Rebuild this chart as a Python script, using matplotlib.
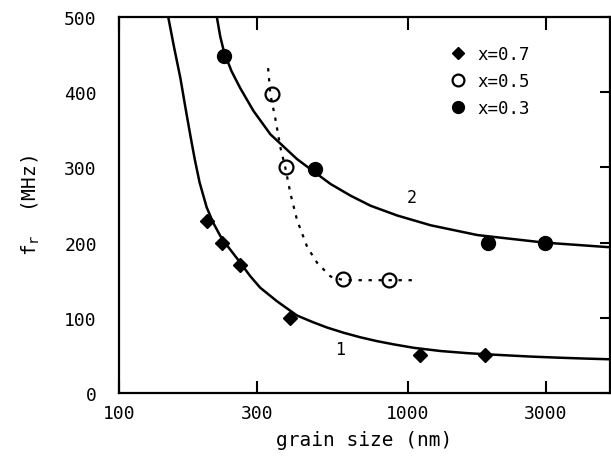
import matplotlib
matplotlib.use("agg")
import matplotlib.pyplot as plt

# measured points
d07 = [201, 228, 262, 391, 1100, 1850]
f07 = [229, 199, 170, 100, 50, 51]

d05 = [337, 379, 598, 861]
f05 = [398, 300, 151, 150]

d03 = [230, 478, 1893, 2970]
f03 = [448, 298, 199, 200]

# curve 1
c1_d = [148, 155, 163, 170, 177, 183, 190, 201, 212, 224, 240, 256, 285, 308,
        352, 413, 470, 525, 600, 685, 780, 894, 1050, 1297, 1600, 1858, 2662,
        3300, 4074, 4909]
c1_f = [500, 460, 419, 378, 340, 310, 280, 247, 226, 209, 193, 179, 155, 140,
        122, 103, 94, 87, 80, 74, 69, 64.6, 60, 55.8, 53, 51.5, 48.4, 47, 45.8,
        44.9]

# curve 2
c2_d = [218, 224, 230, 236, 245, 263, 292, 334, 413, 539, 632, 742, 918, 1198,
        1739, 1986, 2959, 4909]
c2_f = [500, 474, 456, 444, 428, 405, 375, 344, 311, 278, 262.5, 249, 236, 223,
        210, 207.5, 200, 194]

# dotted guide through the x=0.5 points
g_d = [328, 334, 347, 362, 376, 392, 413, 448, 485, 539, 598, 1077]
g_f = [432, 397, 366, 326, 300, 265, 230, 194, 173, 155, 150, 150]

xticks = [100, 300, 1000, 3000]
yticks = [0, 100, 200, 300, 400, 500]

plt.rcParams['font.family'] = ['DejaVu Sans Mono', 'DejaVu Sans']
plt.rcParams['mathtext.default'] = 'regular'

fig = plt.figure(figsize=(6.11, 4.60), dpi=100)
ax = fig.add_axes([0.1948, 0.1435, 0.8036, 0.8174])

ax.plot(c1_d, c1_f, color='black', lw=1.8, zorder=2)
ax.plot(c2_d, c2_f, color='black', lw=1.8, zorder=2)
ax.plot(g_d, g_f, color='black', lw=1.6, ls=(0, (1.5, 3)), zorder=2)

ax.plot(d07, f07, ls='none', marker='D', ms=7, color='black', label='x=0.7', zorder=3)
ax.plot(d05, f05, ls='none', marker='o', ms=10, mfc='none', mec='black', mew=1.6,
        label='x=0.5', zorder=3)
ax.plot(d03, f03, ls='none', marker='o', ms=10, color='black', label='x=0.3', zorder=3)

ax.text(580, 58, '1', fontsize=12, ha='center', va='center')
ax.text(1030, 260, '2', fontsize=12, ha='center', va='center')

ax.set_xscale('log')
ax.set_xlim(100, 5000)
ax.set_ylim(0, 500)
ax.set_xticks(xticks)
ax.set_xticklabels([str(t) for t in xticks])
ax.set_yticks(yticks)
ax.minorticks_off()
ax.tick_params(axis='both', direction='in', labelsize=13, width=1.5)
ax.tick_params(axis='x', top=True, length=9, pad=8)
ax.tick_params(axis='y', right=True, left=False, length=7, pad=16)

for s in ax.spines.values():
    s.set_linewidth(1.6)

ax.set_xlabel('grain size (nm)', fontsize=14, labelpad=6)
ax.set_ylabel('f$_r$  (MHz)', fontsize=14, labelpad=16)

ax.legend(loc='upper left', bbox_to_anchor=(0.656, 0.948), frameon=False,
          handlelength=1.0, handletextpad=0.6, labelspacing=0.5, borderpad=0,
          fontsize=12.5, markerscale=0.85)

plt.savefig("out.png", dpi=100)
